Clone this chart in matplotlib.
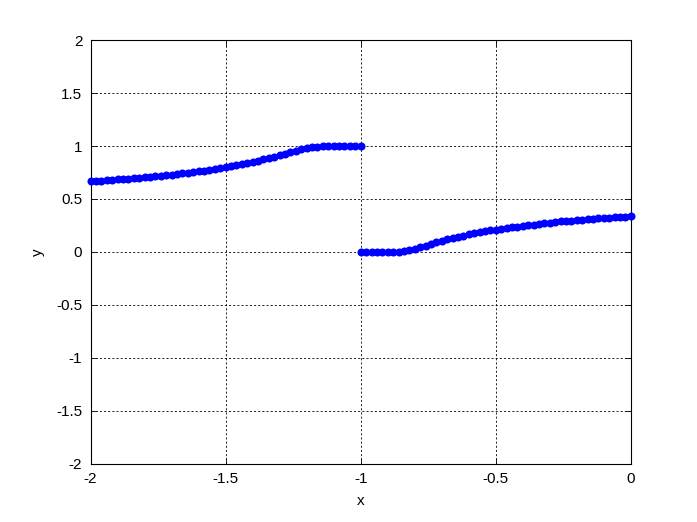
import matplotlib
matplotlib.use('Agg')
import matplotlib.pyplot as plt

plt.rcParams['font.family'] = ['Liberation Sans', 'DejaVu Sans']

# left branch
x_left = [-2.00, -1.98, -1.96, -1.94, -1.92, -1.90, -1.88, -1.86, -1.84, -1.82,
          -1.80, -1.78, -1.76, -1.74, -1.72, -1.70, -1.68, -1.66, -1.64, -1.62,
          -1.60, -1.58, -1.56, -1.54, -1.52, -1.50, -1.48, -1.46, -1.44, -1.42,
          -1.40, -1.38, -1.36, -1.34, -1.32, -1.30, -1.28, -1.26, -1.24, -1.22,
          -1.20, -1.18, -1.16, -1.14, -1.12, -1.10, -1.08, -1.06, -1.04, -1.02,
          -1.00]
y_left = [0.667, 0.670, 0.674, 0.678, 0.681, 0.685, 0.689, 0.693, 0.697, 0.701,
          0.705, 0.710, 0.715, 0.720, 0.725, 0.730, 0.736, 0.742, 0.748, 0.754,
          0.760, 0.768, 0.776, 0.784, 0.792, 0.800, 0.810, 0.820, 0.830, 0.840,
          0.850, 0.862, 0.874, 0.887, 0.901, 0.915, 0.929, 0.943, 0.956, 0.968,
          0.980, 0.988, 0.995, 0.999, 1.000, 1.000, 1.000, 1.000, 1.000, 1.000,
          1.000]

# right branch
x_right = [-1.00, -0.98, -0.96, -0.94, -0.92, -0.90, -0.88, -0.86, -0.84, -0.82,
           -0.80, -0.78, -0.76, -0.74, -0.72, -0.70, -0.68, -0.66, -0.64, -0.62,
           -0.60, -0.58, -0.56, -0.54, -0.52, -0.50, -0.48, -0.46, -0.44, -0.42,
           -0.40, -0.38, -0.36, -0.34, -0.32, -0.30, -0.28, -0.26, -0.24, -0.22,
           -0.20, -0.18, -0.16, -0.14, -0.12, -0.10, -0.08, -0.06, -0.04, -0.02,
           0.00]
y_right = [0.000, 0.000, 0.000, 0.000, 0.000, 0.000, 0.001, 0.003, 0.008, 0.017,
           0.030, 0.044, 0.060, 0.075, 0.090, 0.105, 0.117, 0.129, 0.141, 0.153,
           0.165, 0.175, 0.185, 0.194, 0.202, 0.210, 0.218, 0.226, 0.233, 0.239,
           0.245, 0.251, 0.257, 0.263, 0.269, 0.275, 0.281, 0.287, 0.292, 0.296,
           0.300, 0.304, 0.308, 0.312, 0.316, 0.320, 0.323, 0.326, 0.329, 0.332,
           0.335]

x_ticks = [-2, -1.5, -1, -0.5, 0]
x_ticklabels = ['-2', '-1.5', '-1', '-0.5', '0']
y_ticks = [-2, -1.5, -1, -0.5, 0, 0.5, 1, 1.5, 2]
y_ticklabels = ['-2', '-1.5', '-1', '-0.5', '0', '0.5', '1', '1.5', '2']

fig = plt.figure(figsize=(6.97, 5.22), dpi=100)
ax = fig.add_axes([0.13, 0.112, 0.775, 0.811])

ax.plot(x_left, y_left, 'o', color='#0000ff', markersize=5.8, markeredgewidth=0, clip_on=False, zorder=3)
ax.plot(x_right, y_right, 'o', color='#0000ff', markersize=5.8, markeredgewidth=0, clip_on=False, zorder=3)

ax.set_xlim(-2, 0)
ax.set_ylim(-2, 2)
ax.set_xticks(x_ticks)
ax.set_xticklabels(x_ticklabels)
ax.set_yticks(y_ticks)
ax.set_yticklabels(y_ticklabels)
ax.grid(True, color='black', linestyle=(0, (2.5, 2.5)), linewidth=0.6)
ax.tick_params(direction='in', top=True, right=True, length=4, width=0.6, labelsize=11, pad=6)
for s in ax.spines.values():
    s.set_linewidth(0.8)

ax.set_xlabel('x', fontsize=11, labelpad=6)
ax.set_ylabel('y', fontsize=11, labelpad=8)

fig.savefig('out.png', dpi=100)
